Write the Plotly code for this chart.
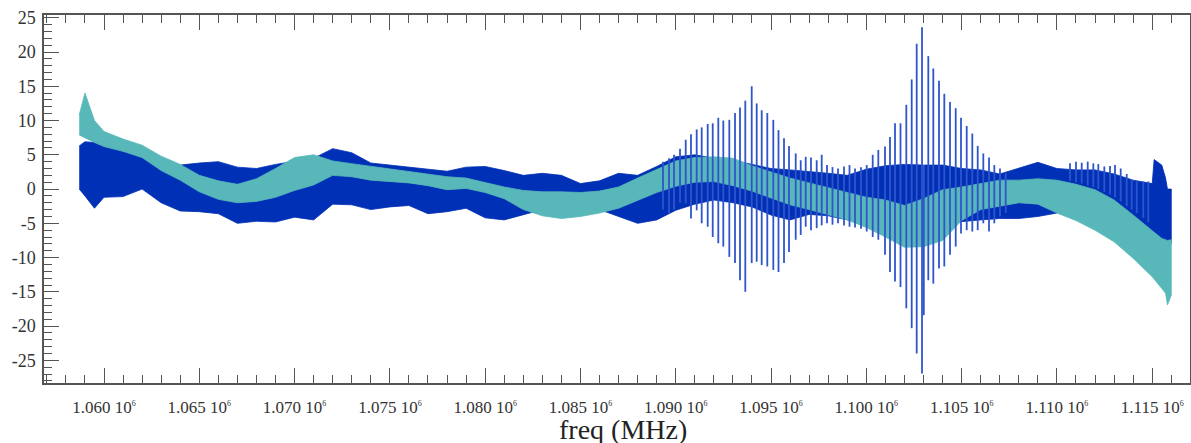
import plotly.graph_objects as go

# ---------------- data ----------------
freq = [1058700, 1059000, 1059500, 1060000, 1061000, 1062000, 1063000, 1064000,
        1065000, 1066000, 1067000, 1068000, 1069000, 1070000, 1071000, 1072000,
        1073000, 1074000, 1075000, 1076000, 1077000, 1078000, 1079000, 1080000,
        1081000, 1082000, 1083000, 1084000, 1085000, 1086000, 1087000, 1088000,
        1089000, 1090000, 1091000, 1092000, 1093000, 1094000, 1095000, 1096000,
        1097000, 1098000, 1099000, 1100000, 1101000, 1102000, 1103000, 1104000,
        1105000, 1106000, 1107000, 1108000, 1109000, 1110000, 1111000, 1112000,
        1113000, 1114000, 1115000, 1115100, 1115500, 1115700, 1115800, 1116000]

blue_hi = [6.3, 6.9, 6.8, 6.3, 5.5, 4.6, 3.0, 3.5, 3.8, 4.0, 3.2, 3.0, 3.6, 4.0, 4.5, 5.9,
           5.3, 3.8, 3.5, 3.1, 2.8, 2.6, 3.2, 3.3, 2.7, 2.0, 2.3, 2.0, 0.8, 1.2, 2.3, 2.0,
           3.3, 4.7, 5.0, 4.5, 4.2, 3.6, 3.0, 2.8, 2.6, 2.3, 2.0, 2.9, 3.4, 3.6, 3.5, 3.5,
           3.0, 2.8, 2.2, 3.0, 3.9, 3.0, 2.8, 2.8, 2.2, 1.3, 0.8, 4.3, 3.5, 1.6, 0.0, 0.0]
blue_lo = [0.0, -1.0, -2.8, -1.2, -1.1, 0.0, -2.0, -3.2, -3.3, -3.6, -5.0, -4.7, -4.8, -4.1, -4.5, -2.2,
           -2.3, -3.0, -2.6, -2.4, -3.6, -3.3, -2.8, -4.2, -4.5, -3.8, -3.0, -3.5, -3.5, -3.0, -4.0, -5.0,
           -4.5, -3.1, -2.2, -1.6, -2.0, -2.6, -3.8, -4.5, -3.7, -3.9, -4.5, -5.0, -5.0, -5.0, -5.0, -5.0,
           -4.8, -4.5, -4.3, -4.3, -4.0, -3.5, 0.0, -0.8, -2.5, -4.5, -7.0, -7.0, -8.0, -8.0, -8.0, -8.0]
teal_hi = [10.8, 14.0, 10.0, 8.4, 7.3, 6.4, 4.8, 3.6, 2.0, 1.2, 0.7, 1.5, 3.0, 4.6, 5.0, 4.1,
           3.7, 3.3, 2.9, 2.6, 2.1, 1.8, 1.6, 0.9, 0.3, -0.2, -0.4, -0.4, -0.5, -0.3, 0.3, 1.6,
           2.9, 4.1, 4.6, 4.7, 4.5, 3.4, 2.5, 1.6, 0.9, 0.2, -0.4, -1.2, -1.6, -2.4, -1.4, -0.1,
           0.3, 0.8, 1.3, 1.3, 1.5, 1.3, 0.7, -0.1, -1.6, -3.8, -6.2, -6.3, -7.2, -7.4, -7.5, -7.4]
teal_lo = [7.9, 7.5, 6.8, 6.2, 5.5, 4.6, 2.7, 1.3, -0.4, -1.5, -2.0, -1.8, -1.2, -0.2, 0.6, 2.0,
           1.8, 1.3, 1.1, 0.9, 0.5, -0.1, 0.1, -0.5, -1.4, -3.0, -3.9, -4.3, -4.0, -3.5, -2.8, -1.7,
           -0.5, 0.4, 1.0, 1.1, 0.5, -0.3, -1.3, -2.3, -3.0, -3.7, -4.5, -5.6, -7.0, -8.5, -8.4, -7.5,
           -4.6, -3.0, -2.5, -2.0, -2.2, -3.5, -4.6, -6.0, -7.7, -10.1, -12.8, -13.0, -14.5, -15.2, -16.9, -15.5]

spike_freq = [1089331, 1089646, 1089908, 1090223, 1090522, 1090800, 1091099, 1091361,
              1091676, 1091939, 1092232, 1092495, 1092810, 1093109, 1093371, 1093649,
              1093985, 1094247, 1094510, 1094803, 1095118, 1095391, 1095680, 1095942,
              1096294, 1096556, 1096818, 1097096, 1097395, 1097658, 1097936, 1098224,
              1098513, 1098828, 1099116, 1099405, 1099720, 1100019, 1100334, 1100628,
              1100979, 1101241, 1101504, 1101792, 1102097, 1102380, 1102642, 1102921,
              1103015, 1103251, 1103513, 1103812, 1104091, 1104390, 1104689, 1104967,
              1105266, 1105560, 1105843, 1106137, 1106436, 1106714, 1107013, 1107312,
              1110686, 1111001, 1111300, 1111615, 1111909, 1112171, 1112486, 1112785,
              1113047, 1113346, 1113661, 1113923, 1114186, 1114532, 1114794]
spike_top = [4.0, 4.5, 5.0, 5.9, 7.2, 8.0, 8.7, 9.0, 9.5, 9.6, 10.4, 10.0, 10.1, 11.1, 11.9, 12.9,
             15.0, 12.5, 11.5, 11.1, 10.1, 8.6, 7.4, 6.3, 5.2, 4.2, 4.7, 4.6, 4.2, 5.0, 3.5, 3.2,
             3.0, 3.3, 3.5, 3.0, 3.2, 3.5, 5.0, 5.7, 6.2, 7.6, 9.6, 9.6, 12.3, 16.0, 21.2, 23.6,
             3.5, 19.4, 17.6, 15.8, 13.9, 12.7, 11.8, 10.4, 9.2, 8.1, 6.3, 5.2, 4.6, 3.5, 3.0, 2.3,
             3.75, 4.0, 3.85, 4.0, 3.75, 3.65, 3.3, 3.35, 3.5, 3.0, 2.2, 1.3, 1.1, 1.1, 1.1]
spike_bot = [-3.0, -3.5, -3.0, -2.0, -2.1, -4.3, -3.1, -5.0, -5.5, -7.0, -7.9, -8.4, -9.9, -10.8, -13.3, -15.0,
             -10.8, -10.6, -11.1, -11.3, -11.8, -12.1, -10.8, -9.2, -7.4, -6.7, -5.5, -6.0, -5.7, -5.3, -5.0, -5.2,
             -5.0, -5.3, -5.5, -5.6, -5.8, -6.2, -7.0, -7.4, -9.6, -12.1, -13.5, -14.3, -17.4, -20.3, -24.0, -26.9,
             -18.4, -13.3, -13.8, -11.6, -11.3, -9.6, -8.4, -6.5, -6.0, -6.2, -6.0, -5.0, -6.2, -5.0, -4.0, -3.5,
             1.2, 1.0, 0.8, 0.5, 0.3, 0.0, -0.4, -0.8, -1.2, -1.8, -2.5, -3.0, -3.5, -4.2, -4.8]

x_ticks = [1060000, 1065000, 1070000, 1075000, 1080000, 1085000,
           1090000, 1095000, 1100000, 1105000, 1110000, 1115000]
x_ticktext = [f"{v / 1e6:.3f} 10<sup><span style='font-size:8px'>6</span></sup>"
              for v in x_ticks]
y_ticks = [-25, -20, -15, -10, -5, 0, 5, 10, 15, 20, 25]
y_ticktext = [str(v) for v in y_ticks]
x_title = "freq (MHz)"

BLUE = "#0030b5"
TEAL = "#58b8b9"
SPIKE = "#2f55cc"
AXIS = "#555555"
SERIF = "Liberation Serif, Times New Roman, serif"


def band(x, hi, lo, color):
    return go.Scatter(
        x=list(x) + list(x)[::-1],
        y=list(hi) + list(lo)[::-1],
        mode="lines", fill="toself", fillcolor=color,
        line=dict(color=color, width=0.8),
        hoverinfo="skip", showlegend=False)


sx, sy = [], []
for f, t, b in zip(spike_freq, spike_top, spike_bot):
    sx += [f, f, None]
    sy += [b, t, None]

fig = go.Figure()
fig.add_trace(band(freq, blue_hi, blue_lo, BLUE))
fig.add_trace(band(freq, teal_hi, teal_lo, TEAL))
fig.add_trace(go.Scatter(x=sx, y=sy, mode="lines",
                         line=dict(color=SPIKE, width=1.8),
                         hoverinfo="skip", showlegend=False))

fig.update_layout(
    width=1191, height=443,
    margin=dict(l=44, r=1, t=15, b=60),
    paper_bgcolor="white", plot_bgcolor="white",
    showlegend=False,
    font=dict(family=SERIF, color="#333333"),
)
fig.update_xaxes(
    range=[1056852, 1116982], automargin=False,
    tickmode="array", tickvals=x_ticks, ticktext=x_ticktext,
    tickfont=dict(family=SERIF, size=17, color="#333333"),
    ticks="inside", ticklen=15, tickwidth=1, tickcolor=AXIS,
    minor=dict(dtick=1000, tick0=1060000, ticks="inside", ticklen=8,
               tickwidth=1, tickcolor=AXIS, showgrid=False),
    showline=True, linecolor=AXIS, linewidth=1.5, mirror="ticks",
    showgrid=False, zeroline=False,
    ticklabelstandoff=8,
)
fig.update_yaxes(
    range=[-28.3, 25.4], automargin=False,
    tickmode="array", tickvals=y_ticks, ticktext=y_ticktext,
    tickfont=dict(family=SERIF, size=18, color="#333333"),
    ticks="inside", ticklen=15, tickwidth=1, tickcolor=AXIS,
    minor=dict(dtick=1, tick0=0, ticks="inside", ticklen=8,
               tickwidth=1, tickcolor=AXIS, showgrid=False),
    showline=True, linecolor=AXIS, linewidth=1.5, mirror=True,
    showgrid=False, zeroline=False,
    ticklabelstandoff=3,
)
fig.add_annotation(
    text=x_title, xref="paper", yref="paper", x=0.505, y=-0.125,
    xanchor="center", yanchor="middle", showarrow=False,
    font=dict(family=SERIF, size=28, color="#222222"),
)

fig.write_html(
    "out.html",
    config={"displayModeBar": False},
    post_script="document.body.style.margin='0';document.body.style.overflow='hidden';",
)
